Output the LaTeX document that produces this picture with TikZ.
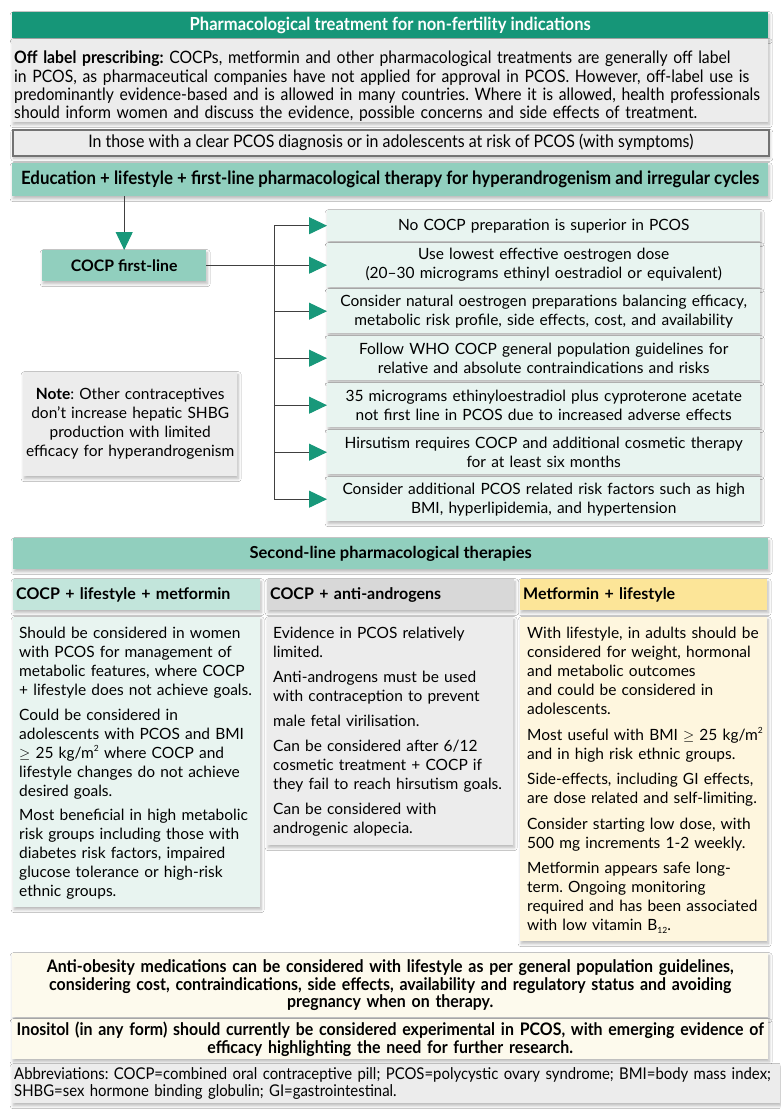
\documentclass[tikz,border=0pt]{standalone}
\usepackage{fontspec}
\setmainfont{Lato}
\newfontfamily\condfont[FakeStretch=0.92]{Lato}
\usepackage{tikz}
\usetikzlibrary{arrows.meta,positioning,calc,shadows.blur}
\frenchspacing
\newcommand{\sqmark}{\raisebox{0.8ex}{\fontsize{8.5}{9}\selectfont 2}}
\newcommand{\bsubtwelve}{\raisebox{-0.4ex}{\fontsize{8.5}{9}\selectfont 12}}

\begin{document}
\begin{tikzpicture}[
  x=1pt, y=-1pt,
  font=\fontsize{15.5}{19}\selectfont,
  softshadow/.style={blur shadow={shadow xshift=1pt, shadow yshift=-2.5pt,
    shadow blur radius=3pt, shadow blur steps=6, shadow opacity=28}},
  band/.style={softshadow, anchor=north west, inner sep=0pt, align=center,
    minimum width=756pt},
  itembox/.style={softshadow, fill=itemteal, anchor=north west, inner sep=0pt,
    minimum width=433pt, minimum height=44pt, text width=427pt, align=center},
  colhead/.style={softshadow, anchor=north west, inner xsep=3pt, inner ysep=0pt,
    minimum width=247pt, minimum height=31pt, text width=241pt, align=left,
    font=\bfseries\fontsize{16}{19}\selectfont},
  colbody/.style={softshadow, anchor=north west, inner sep=0pt, minimum width=247pt},
  coltext/.style={anchor=north west, inner sep=0pt, text width=240pt, align=left},
  trunkline/.style={line width=1pt, draw=black!75},
  flow/.style={trunkline, -{Triangle[length=18pt, width=17pt, color=arrowgreen]}}
]

\definecolor{deepteal}{RGB}{22,150,120}
\definecolor{arrowgreen}{RGB}{24,152,122}
\definecolor{midteal}{RGB}{145,207,190}
\definecolor{headteal}{RGB}{194,229,219}
\definecolor{itemteal}{RGB}{232,244,240}
\definecolor{paper}{RGB}{236,236,236}
\definecolor{headgrey}{RGB}{216,216,216}
\definecolor{headyellow}{RGB}{252,229,152}
\definecolor{bodyyellow}{RGB}{254,246,222}
\definecolor{cream}{RGB}{253,250,237}

\fill[white] (0,0) rectangle (780,1116);
\useasboundingbox (0,0) rectangle (780,1116);

% top bands
\node[band, fill=deepteal, text=white, minimum height=26pt,
  font=\condfont\bfseries\fontsize{18}{19}\selectfont] (title) at (12,12)
  {Pharmacological treatment for non-fertility indications};
\node[band, fill=paper, minimum height=83pt] (offlabel) at (12,39) {};
\node[anchor=north west, inner sep=0pt, text width=760pt, align=left,
  font=\condfont\fontsize{17.1}{18.3}\selectfont] (offtext)
  at ([xshift=2pt, yshift=-12pt]offlabel.north west)
  {\textbf{Off label prescribing:} COCPs, metformin and other pharmacological treatments are generally off label\\
   in PCOS, as pharmaceutical companies have not applied for approval in PCOS. However, off-label use is\\
   predominantly evidence-based and is allowed in many countries. Where it is allowed, health professionals\\
   should inform women and discuss the evidence, possible concerns and side effects of treatment.};
\node[band, fill=paper, draw=black!55, line width=1.6pt, minimum height=26pt,
  font=\condfont\fontsize{17.3}{19}\selectfont] (cohort) at (12,129)
  {In those with a clear PCOS diagnosis or in adolescents at risk of PCOS (with symptoms)};
\node[band, fill=midteal, minimum height=33pt,
  font=\condfont\bfseries\fontsize{18.3}{20}\selectfont] (firstline) at (12,163)
  {Education + lifestyle + first-line pharmacological therapy for hyperandrogenism and irregular cycles};

% first-line COCP and its recommendations
\node[softshadow, fill=midteal, anchor=north west, minimum width=164pt,
  minimum height=31pt, inner sep=0pt, font=\bfseries\fontsize{15.8}{19}\selectfont]
  (cocp) at (42,250) {COCP first-line};
\draw[flow] (cocp.north |- firstline.south) -- (cocp.north);

\node[itembox, minimum height=31pt] (item1) at (327,210)
  {No COCP preparation is superior in PCOS};
\node[itembox] (item2) at (327,243)
  {Use lowest effective oestrogen dose\\(20--30 micrograms ethinyl oestradiol or equivalent)};
\node[itembox] (item3) at (327,289)
  {Consider natural oestrogen preparations balancing efficacy,\\metabolic risk profile, side effects, cost, and availability};
\node[itembox] (item4) at (327,336)
  {Follow WHO COCP general population guidelines for\\relative and absolute contraindications and risks};
\node[itembox] (item5) at (327,383)
  {35 micrograms ethinyloestradiol plus cyproterone acetate\\not first line in PCOS due to increased adverse effects};
\node[itembox] (item6) at (327,430)
  {Hirsutism requires COCP and additional cosmetic therapy\\for at least six months};
\node[itembox] (item7) at (327,477)
  {Consider additional PCOS related risk factors such as high\\BMI, hyperlipidemia, and hypertension};

\coordinate (trunk) at (274,0);
\draw[trunkline] (cocp.east) -- (cocp.east -| trunk);
\draw[trunkline] (trunk |- item1.west) -- (trunk |- item7.west);
\foreach \n in {1,...,7}
  \draw[flow] (trunk |- item\n.west) -- (item\n.west);

\node[softshadow, fill=paper, anchor=north west, minimum width=214pt,
  minimum height=104pt, inner sep=0pt, text width=212pt, align=center]
  (note) at (23,372)
  {\textbf{Note}: Other contraceptives\\don't increase hepatic SHBG\\production with limited\\efficacy for hyperandrogenism};

% second-line therapies
\node[band, fill=midteal, minimum width=755pt, minimum height=31pt,
  font=\bfseries\fontsize{16.5}{19}\selectfont] (secondline) at (13,538)
  {Second-line pharmacological therapies};

\node[colhead, fill=headteal] (methead) at (13,579) {COCP + lifestyle + metformin};
\node[colhead, fill=headgrey, minimum width=246pt] (antihead) at (267,579) {COCP + anti-androgens};
\node[colhead, fill=headyellow] (lifehead) at (520,579) {Metformin + lifestyle};

\node[colbody, fill=itemteal, minimum height=290pt] (metbody) at (13,617) {};
\node[colbody, fill=paper, minimum width=246pt, minimum height=228pt] (antibody) at (267,617) {};
\node[colbody, fill=bodyyellow, minimum height=324pt] (lifebody) at (520,617) {};

\node[coltext] (mettext) at ([xshift=6pt, yshift=-10pt]metbody.north west)
  {Should be considered in women\\with PCOS for management of\\metabolic features, where COCP\\+ lifestyle does not achieve goals.\\[5.5pt]
   Could be considered in\\adolescents with PCOS and BMI\\\ensuremath{\geq} 25 kg/m\sqmark{} where COCP and\\lifestyle changes do not achieve\\desired goals.\\[5.5pt]
   Most beneficial in high metabolic\\risk groups including those with\\diabetes risk factors, impaired\\glucose tolerance or high-risk\\ethnic groups.};
\node[coltext] (antitext) at ([xshift=6pt, yshift=-10pt]antibody.north west)
  {Evidence in PCOS relatively\\limited.\\[6pt]
   Anti-androgens must be used\\with contraception to prevent\\[6pt]
   male fetal virilisation.\\[6pt]
   Can be considered after 6/12\\cosmetic treatment + COCP if\\they fail to reach hirsutism goals.\\[6pt]
   Can be considered with\\androgenic alopecia.};
\node[coltext] (lifetext) at ([xshift=7pt, yshift=-10pt]lifebody.north west)
  {With lifestyle, in adults should be\\considered for weight, hormonal\\and metabolic outcomes\\and could be considered in\\adolescents.\\[6.5pt]
   Most useful with BMI \ensuremath{\geq} 25 kg/m\sqmark\\and in high risk ethnic groups.\\[6.5pt]
   Side-effects, including GI effects,\\are dose related and self-limiting.\\[6.5pt]
   Consider starting low dose, with\\500 mg increments 1-2 weekly.\\[6.5pt]
   Metformin appears safe long-\\term. Ongoing monitoring\\required and has been associated\\with low vitamin B\bsubtwelve.};

% other options and abbreviations
\node[band, fill=cream, minimum height=64pt, text width=750pt,
  font=\condfont\bfseries\fontsize{17.3}{17.3}\selectfont] (obesity) at (12,953)
  {Anti-obesity medications can be considered with lifestyle as per general population guidelines,\\
   considering cost, contraindications, side effects, availability and regulatory status and avoiding\\
   pregnancy when on therapy.};
\node[band, fill=cream, minimum height=40pt, text width=754pt,
  font=\condfont\bfseries\fontsize{17.3}{17.3}\selectfont] (inositol) at (12,1019)
  {Inositol (in any form) should currently be considered experimental in PCOS, with emerging evidence of\\
   efficacy highlighting the need for further research.};
\node[band, fill=paper, minimum height=39pt, inner xsep=2pt, text width=764pt,
  align=left, font=\condfont\fontsize{16.2}{17}\selectfont] (abbrev) at (12,1064)
  {Abbreviations: COCP=combined oral contraceptive pill; PCOS=polycystic ovary syndrome; BMI=body mass index;\\
   SHBG=sex hormone binding globulin; GI=gastrointestinal.};

\end{tikzpicture}
\end{document}
